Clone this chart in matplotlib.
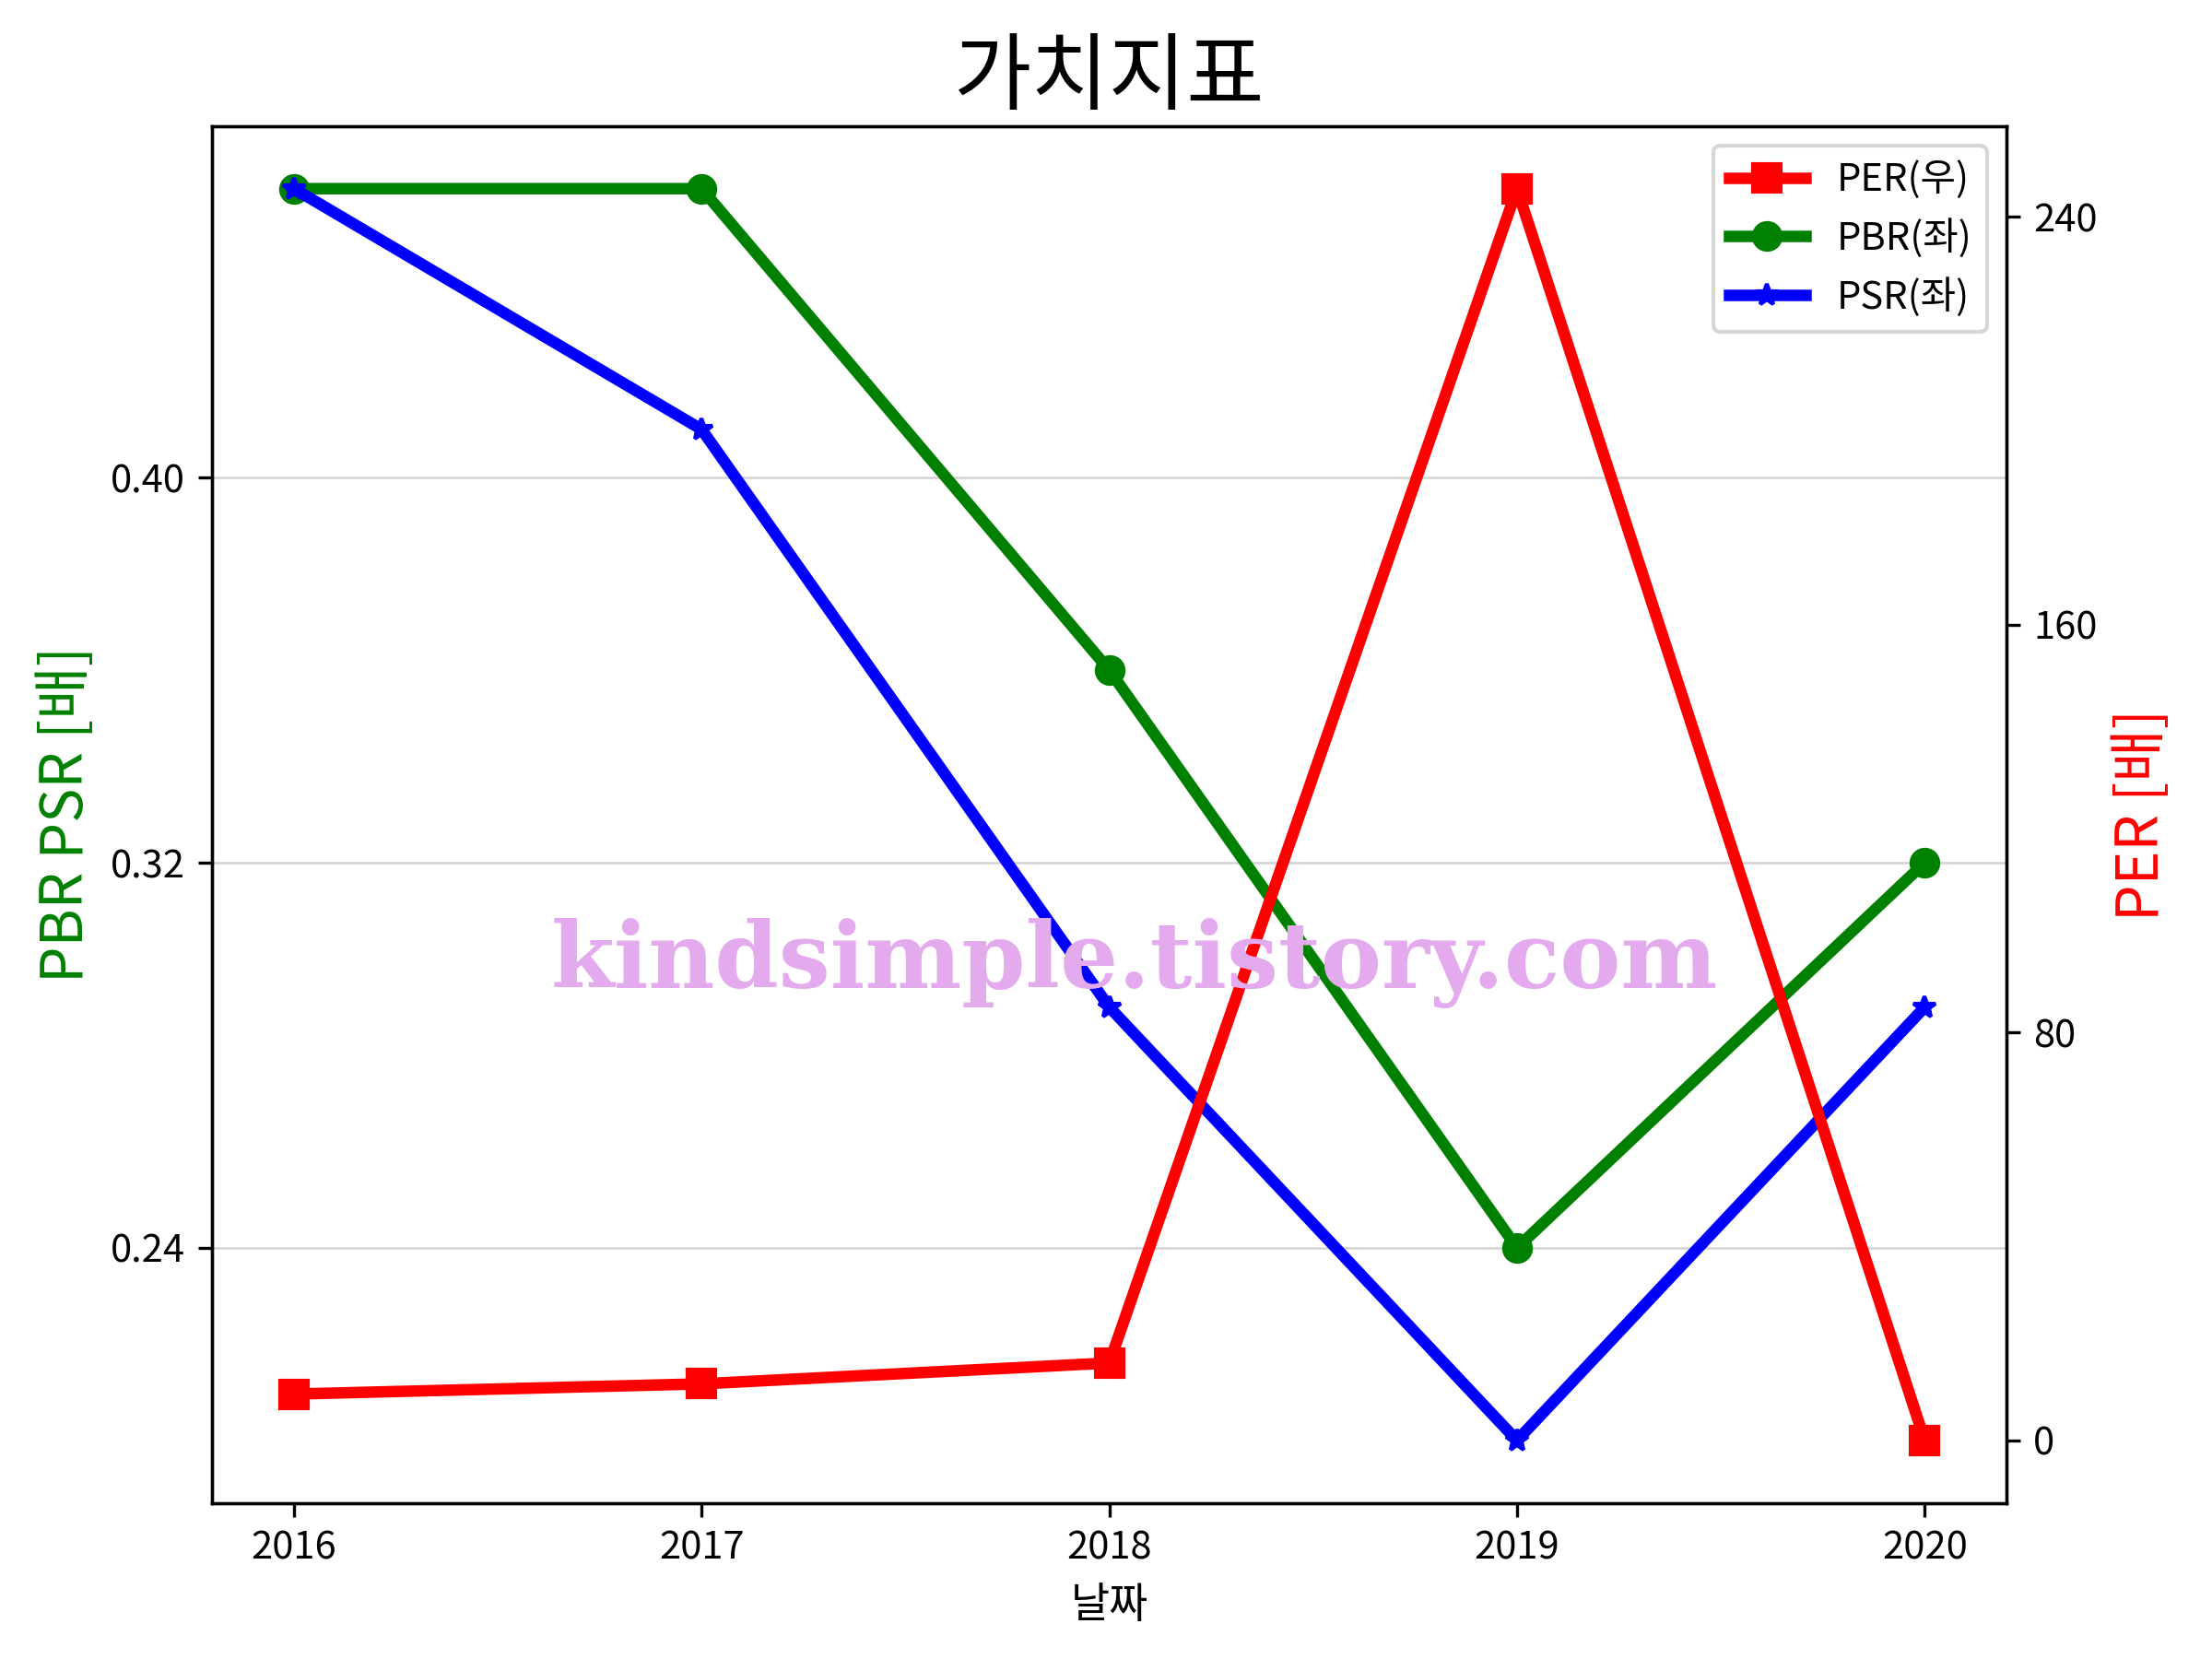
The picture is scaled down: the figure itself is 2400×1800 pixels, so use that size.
import matplotlib
matplotlib.use('Agg')
import matplotlib.pyplot as plt

plt.rcParams['font.family'] = ['Noto Sans CJK KR', 'DejaVu Sans']
plt.rcParams['axes.unicode_minus'] = False

years = ['2016', '2017', '2018', '2019', '2020']
per = [9.1, 11.1, 15.2, 245.5, 0.0]
pbr = [0.46, 0.46, 0.36, 0.24, 0.32]
psr = [0.46, 0.41, 0.29, 0.20, 0.29]

left_ticks = [0.24, 0.32, 0.40]
right_ticks = [0, 80, 160, 240]

fig, ax1 = plt.subplots(figsize=(8, 6), dpi=300)
fig.subplots_adjust(left=0.096, right=0.907, top=0.924, bottom=0.094)

l2, = ax1.plot(years, pbr, color='green', marker='o', markersize=7, linewidth=3, label='PBR(좌)')
l3, = ax1.plot(years, psr, color='blue', marker='*', markersize=6, linewidth=3, label='PSR(좌)')
ax1.set_yticks(left_ticks)
ax1.grid(axis='y', color='lightgray', linewidth=0.6)
ax1.set_axisbelow(True)
ax1.set_ylabel('PBR PSR [배]', color='green', fontsize=15)
ax1.set_xlabel('날짜', fontsize=11)
ax1.tick_params(labelsize=10)

ax2 = ax1.twinx()
l1, = ax2.plot(years, per, color='red', marker='s', markersize=7, linewidth=3, label='PER(우)')
ax2.set_yticks(right_ticks)
ax2.set_ylabel('PER [배]', color='red', fontsize=15)
ax2.tick_params(labelsize=10)

ax2.legend(handles=[l1, l2, l3], loc='upper right', fontsize=10)
ax1.set_title('가치지표', fontsize=22)

# watermark
fig.text(0.513, 0.4195, 'kindsimple.tistory.com', family='DejaVu Serif', weight='bold',
         fontsize=23.8, color='#e4aaee', ha='center', va='center')

fig.savefig('out.png', dpi=300)
